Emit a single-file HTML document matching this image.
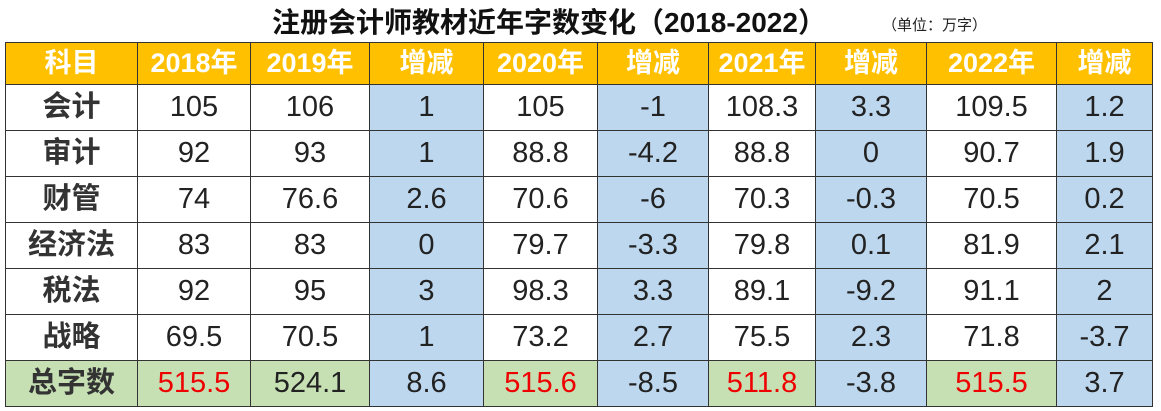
<!DOCTYPE html><html><head><meta charset="utf-8"><style>
body{margin:0;width:1161px;height:411px;background:#fff;position:relative;overflow:hidden;font-family:"Liberation Sans","Noto Sans CJK SC",sans-serif}
.t{position:absolute;left:0;top:1px;width:1098px;text-align:center;font-weight:bold;font-size:28px;color:#111}
.u{position:absolute;left:882px;top:14px;font-size:15px;color:#222}
table{position:absolute;left:5px;top:42px;border-collapse:collapse;table-layout:fixed}
td{border:1.5px solid #333;text-align:center;font-size:29px;color:#222;height:45px;padding:0;line-height:45px}
tr.h td{background:#FFC000;color:#fff;font-weight:bold;font-size:27px;height:41px;line-height:41px}
td.k{font-weight:bold;color:#333}
td.b{background:#BDD7EE}
tr.s td{background:#C6E0B4}
tr.s td.b{background:#BDD7EE}
.r{color:#e00}
</style></head><body>
<div class="t">注册会计师教材近年字数变化（2018-2022）</div>
<div class="u">（单位：万字）</div>
<table>
<colgroup><col style="width:132px"><col style="width:113px"><col style="width:119px"><col style="width:114px"><col style="width:114px"><col style="width:111px"><col style="width:107px"><col style="width:111px"><col style="width:130px"><col style="width:96px"></colgroup>
<tr class="h"><td>科目</td><td>2018年</td><td>2019年</td><td>增减</td><td>2020年</td><td>增减</td><td>2021年</td><td>增减</td><td>2022年</td><td>增减</td></tr>
<tr><td class="k">会计</td><td>105</td><td>106</td><td class="b">1</td><td>105</td><td class="b">-1</td><td>108.3</td><td class="b">3.3</td><td>109.5</td><td class="b">1.2</td></tr>
<tr><td class="k">审计</td><td>92</td><td>93</td><td class="b">1</td><td>88.8</td><td class="b">-4.2</td><td>88.8</td><td class="b">0</td><td>90.7</td><td class="b">1.9</td></tr>
<tr><td class="k">财管</td><td>74</td><td>76.6</td><td class="b">2.6</td><td>70.6</td><td class="b">-6</td><td>70.3</td><td class="b">-0.3</td><td>70.5</td><td class="b">0.2</td></tr>
<tr><td class="k">经济法</td><td>83</td><td>83</td><td class="b">0</td><td>79.7</td><td class="b">-3.3</td><td>79.8</td><td class="b">0.1</td><td>81.9</td><td class="b">2.1</td></tr>
<tr><td class="k">税法</td><td>92</td><td>95</td><td class="b">3</td><td>98.3</td><td class="b">3.3</td><td>89.1</td><td class="b">-9.2</td><td>91.1</td><td class="b">2</td></tr>
<tr><td class="k">战略</td><td>69.5</td><td>70.5</td><td class="b">1</td><td>73.2</td><td class="b">2.7</td><td>75.5</td><td class="b">2.3</td><td>71.8</td><td class="b">-3.7</td></tr>
<tr class="s"><td class="k">总字数</td><td class="r">515.5</td><td>524.1</td><td class="b">8.6</td><td class="r">515.6</td><td class="b">-8.5</td><td class="r">511.8</td><td class="b">-3.8</td><td class="r">515.5</td><td class="b">3.7</td></tr>
</table>
</body></html>
